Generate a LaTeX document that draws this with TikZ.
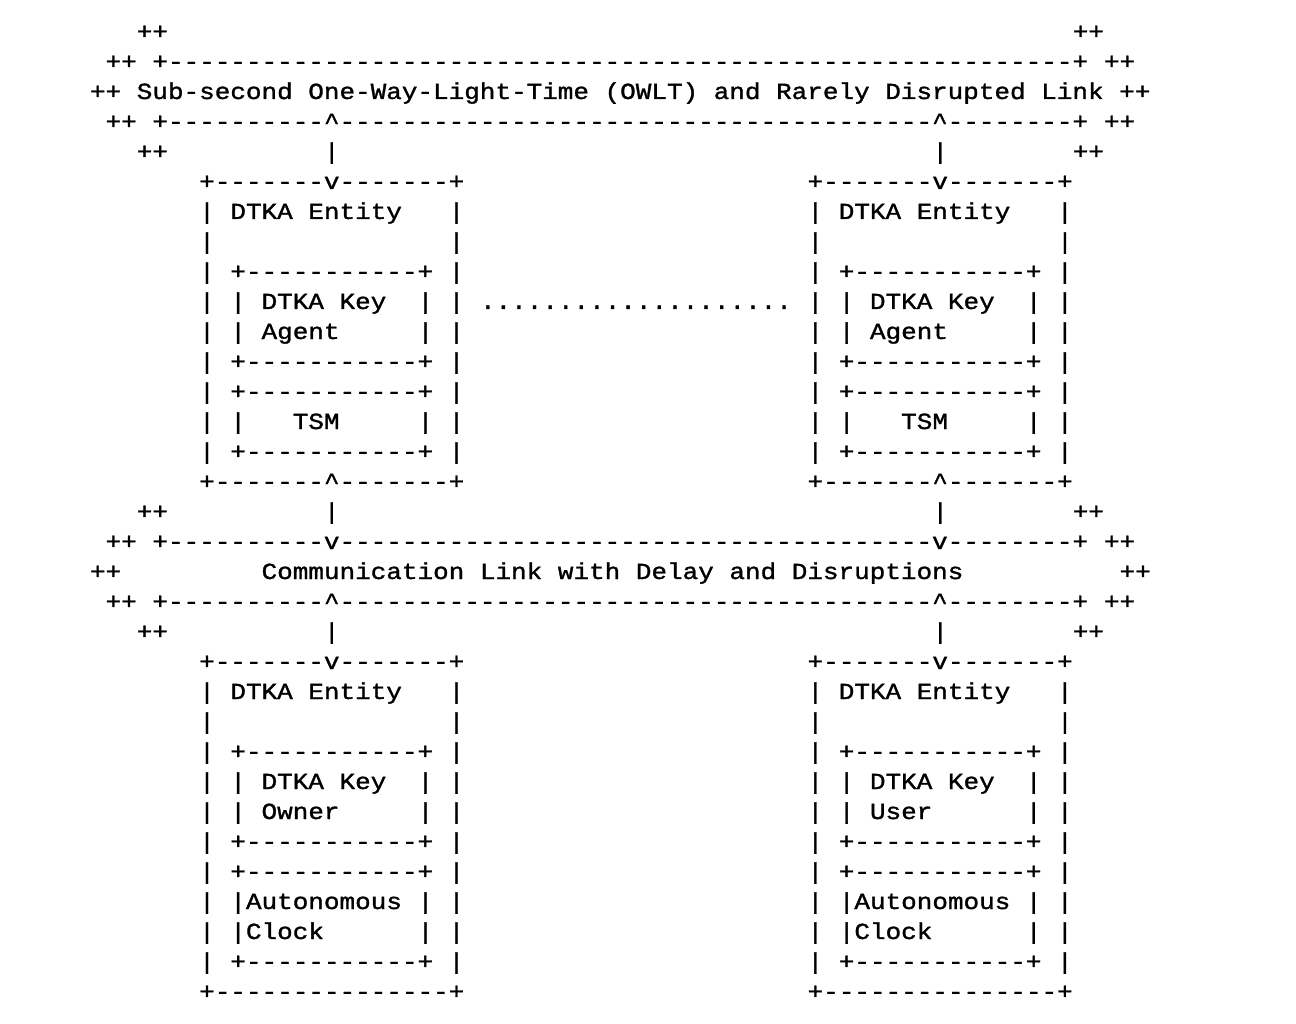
\documentclass[tikz,border=0pt]{standalone}
\usepackage{fontspec}
\setmonofont[FakeStretch=1.13,FakeBold=1.3]{Liberation Mono}
\ExplSyntaxOn
\newcommand\dashes[1]{\prg_replicate:nn{#1}{-}}
\newcommand\sps[1]{\prg_replicate:nn{#1}{\nobreakspace}}
\ExplSyntaxOff
\newcommand\caret{\char"5E\relax}
\tikzset{asc/.style={anchor=base west,inner sep=0pt,outer sep=0pt,
  font=\ttfamily\fontsize{23}{30}\selectfont,text=black}}
% name, row, column, text
\newcommand\seg[4]{\node[asc] (#1) at ({90+#3*15.6},{39+30*#2}) {#4};}
% upper entity box: prefix, column, key text line 2
\newcommand\upperbox[3]{%
  \seg{#1t}{5}{#2}{+\dashes{7}v\dashes{7}+}
  \seg{#1e}{6}{#2}{| DTKA Entity~~~|}
  \seg{#1b}{7}{#2}{|\sps{15}|}
  \seg{#1ka}{8}{#2}{| +\dashes{11}+ |}
  \seg{#1kb}{9}{#2}{| | DTKA Key~~| |}
  \seg{#1kc}{10}{#2}{| | #3| |}
  \seg{#1kd}{11}{#2}{| +\dashes{11}+ |}
  \seg{#1sa}{12}{#2}{| +\dashes{11}+ |}
  \seg{#1sb}{13}{#2}{| |~~~TSM~~~~~| |}
  \seg{#1sc}{14}{#2}{| +\dashes{11}+ |}
  \seg{#1f}{15}{#2}{+\dashes{7}\caret\dashes{7}+}}
% lower entity box: prefix, column, key text line 2
\newcommand\lowerbox[3]{%
  \seg{#1t}{21}{#2}{+\dashes{7}v\dashes{7}+}
  \seg{#1e}{22}{#2}{| DTKA Entity~~~|}
  \seg{#1b}{23}{#2}{|\sps{15}|}
  \seg{#1ka}{24}{#2}{| +\dashes{11}+ |}
  \seg{#1kb}{25}{#2}{| | DTKA Key~~| |}
  \seg{#1kc}{26}{#2}{| | #3| |}
  \seg{#1kd}{27}{#2}{| +\dashes{11}+ |}
  \seg{#1ca}{28}{#2}{| +\dashes{11}+ |}
  \seg{#1cb}{29}{#2}{| |Autonomous~| |}
  \seg{#1cc}{30}{#2}{| |Clock~~~~~~| |}
  \seg{#1cd}{31}{#2}{| +\dashes{11}+ |}
  \seg{#1f}{32}{#2}{+\dashes{15}+}}
\begin{document}
\begin{tikzpicture}[x=1pt,y=-1pt]
\path[use as bounding box,fill=white] (0,0) rectangle (1296,1024);
% top link
\seg{a1}{0}{3}{++}
\seg{a2}{0}{63}{++}
\seg{b1}{1}{1}{++}
\seg{b2}{1}{4}{+\dashes{58}+}
\seg{b3}{1}{65}{++}
\seg{c1}{2}{0}{++ Sub-second One-Way-Light-Time (OWLT) and Rarely Disrupted Link ++}
\seg{d1}{3}{1}{++}
\seg{d2}{3}{4}{+\dashes{10}\caret\dashes{38}\caret\dashes{8}+}
\seg{d3}{3}{65}{++}
\seg{e1}{4}{3}{++}
\seg{e2}{4}{15}{|}
\seg{e3}{4}{54}{|}
\seg{e4}{4}{63}{++}
% upper entities
\upperbox{ul}{7}{Agent~~~~~}
\upperbox{ur}{46}{Agent~~~~~}
\seg{dots}{9}{25}{....................}
% middle link
\seg{f1}{16}{3}{++}
\seg{f2}{16}{15}{|}
\seg{f3}{16}{54}{|}
\seg{f4}{16}{63}{++}
\seg{g1}{17}{1}{++}
\seg{g2}{17}{4}{+\dashes{10}v\dashes{38}v\dashes{8}+}
\seg{g3}{17}{65}{++}
\seg{h1}{18}{0}{++}
\seg{h2}{18}{11}{Communication Link with Delay and Disruptions}
\seg{h3}{18}{66}{++}
\seg{i1}{19}{1}{++}
\seg{i2}{19}{4}{+\dashes{10}\caret\dashes{38}\caret\dashes{8}+}
\seg{i3}{19}{65}{++}
\seg{j1}{20}{3}{++}
\seg{j2}{20}{15}{|}
\seg{j3}{20}{54}{|}
\seg{j4}{20}{63}{++}
% lower entities
\lowerbox{ll}{7}{Owner~~~~~}
\lowerbox{lr}{46}{User~~~~~~}
\end{tikzpicture}
\end{document}
